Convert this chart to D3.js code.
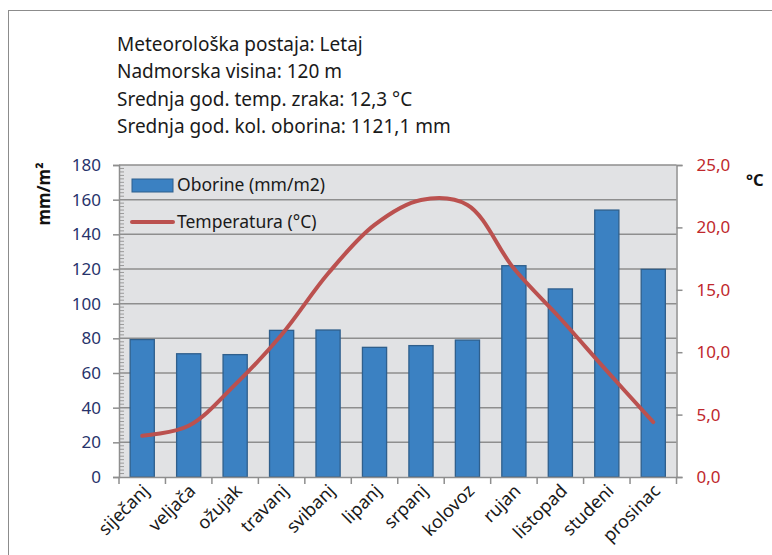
<!DOCTYPE html>
<html>
<head>
<meta charset="utf-8">
<script src="https://cdn.jsdelivr.net/npm/d3@7"></script>
<style>
  body { margin: 0; background: #fff; }
  svg { display: block; font-family: "Noto Sans", "Open Sans", sans-serif; }
</style>
</head>
<body>
<svg id="chart" width="772" height="555"></svg>
<script>
const months = ['siječanj', 'veljača', 'ožujak', 'travanj', 'svibanj', 'lipanj',
  'srpanj', 'kolovoz', 'rujan', 'listopad', 'studeni', 'prosinac']
const oborine = [79.3, 71.1, 70.6, 84.6, 84.8, 74.8, 75.8, 79.0, 121.9, 108.5, 154.0, 119.8]
const temperatura = [3.3, 4.1, 7.4, 11.4, 16.3, 20.2, 22.2, 21.8, 16.7, 12.7, 8.5, 4.4]
const leftTicks = [0, 20, 40, 60, 80, 100, 120, 140, 160, 180]
const rightTicks = [0, 5, 10, 15, 20, 25]
const infoLines = [
  'Meteorološka postaja: Letaj',
  'Nadmorska visina: 120 m',
  'Srednja god. temp. zraka: 12,3 °C',
  'Srednja god. kol. oborina: 1121,1 mm'
]

let svg = d3.select('#chart')
let plotL = 119, plotR = 676.5, plotT = 165, plotB = 477

// outer frame
svg.append('rect')
  .attr('x', 8.5).attr('y', 10.5)
  .attr('width', 800).attr('height', 600)
  .attr('fill', 'none')
  .attr('stroke', '#8c8c8c')

svg.selectAll('.info')
  .data(infoLines)
  .enter()
  .append('text')
  .attr('x', 117)
  .attr('y', (d, i) => 51 + i * 27.3)
  .attr('font-size', 19)
  .attr('fill', '#1a1a1a')
  .text(d => d)

let x = d3.scaleBand().domain(months).range([plotL, plotR]).paddingInner(0.48).paddingOuter(0.24)
let xBand = d3.scaleBand().domain(months).range([plotL, plotR])
let y = d3.scaleLinear().domain([0, 180]).range([plotB, plotT])
let yT = d3.scaleLinear().domain([0, 25]).range([plotB, plotT])

// plot background
svg.append('rect')
  .attr('x', plotL).attr('y', plotT)
  .attr('width', plotR - plotL).attr('height', plotB - plotT)
  .attr('fill', '#e1e2e4')

// grid
svg.append('g')
  .selectAll('line')
  .data(leftTicks.slice(1))
  .enter()
  .append('line')
  .attr('x1', plotL).attr('x2', plotR)
  .attr('y1', d => y(d)).attr('y2', d => y(d))
  .attr('stroke', '#8e8e8e')
  .attr('stroke-width', 1.5)

// minor ticks on left axis (inside)
let minor = d3.range(0, 180, 2).filter(d => d % 20 !== 0)
svg.append('g')
  .selectAll('line')
  .data(minor)
  .enter()
  .append('line')
  .attr('x1', plotL).attr('x2', plotL + 5)
  .attr('y1', d => y(d)).attr('y2', d => y(d))
  .attr('stroke', '#9a9a9a')
  .attr('stroke-width', 1)

// bars
svg.append('g')
  .selectAll('rect')
  .data(oborine)
  .enter()
  .append('rect')
  .attr('x', (d, i) => x(months[i]))
  .attr('y', d => y(d))
  .attr('width', x.bandwidth())
  .attr('height', d => plotB - y(d))
  .attr('fill', '#3b81c2')
  .attr('stroke', '#2f5f8c')
  .attr('stroke-width', 1.3)

// axes
let yAxis = d3.axisLeft(y).tickValues(leftTicks).tickSize(6).tickPadding(12)
let gy = svg.append('g').attr('transform', `translate(${plotL},0)`).call(yAxis)
gy.selectAll('text').attr('font-size', 17).attr('fill', '#27336b').attr('font-family', '"Noto Sans", sans-serif')

let yAxisR = d3.axisRight(yT).tickValues(rightTicks).tickSize(6).tickPadding(14)
  .tickFormat(d => d3.format('.1f')(d).replace('.', ','))
let gr = svg.append('g').attr('transform', `translate(${plotR},0)`).call(yAxisR)
gr.selectAll('text').attr('font-size', 17).attr('fill', '#c0282d').attr('font-family', '"Noto Sans", sans-serif')

let xAxis = d3.axisBottom(xBand).tickSize(0).tickFormat('')
let gx = svg.append('g').attr('transform', `translate(0,${plotB})`).call(xAxis)
svg.append('g')
  .selectAll('line')
  .data(d3.range(months.length + 1))
  .enter()
  .append('line')
  .attr('x1', i => plotL + i * xBand.step()).attr('x2', i => plotL + i * xBand.step())
  .attr('y1', plotB).attr('y2', plotB + 7)
  .attr('stroke', '#8e8e8e')
  .attr('stroke-width', 1.5)

for (let g of [gy, gr, gx]) {
  g.selectAll('path, line').attr('stroke', '#8e8e8e').attr('stroke-width', 1.5)
}

svg.append('g')
  .selectAll('text')
  .data(months)
  .enter()
  .append('text')
  .attr('transform', d => `translate(${xBand(d) + xBand.bandwidth() / 2 + 8},${plotB + 15}) rotate(-45)`)
  .attr('text-anchor', 'end')
  .attr('font-size', 18)
  .attr('fill', '#1a1a1a')
  .text(d => d)

// temperature line
let line = d3.line()
  .x((d, i) => xBand(months[i]) + xBand.bandwidth() / 2)
  .y(d => yT(d))
  .curve(d3.curveCatmullRom.alpha(0.5))

svg.append('path')
  .datum(temperatura)
  .attr('d', line)
  .attr('fill', 'none')
  .attr('stroke', '#bb514f')
  .attr('stroke-width', 4)
  .attr('stroke-linecap', 'round')

// axis titles
svg.append('text')
  .attr('transform', 'translate(50,194) rotate(-90)')
  .attr('text-anchor', 'middle')
  .attr('font-size', 17)
  .attr('font-weight', 'bold')
  .attr('fill', '#111')
  .text('mm/m²')

svg.append('text')
  .attr('x', 746).attr('y', 186)
  .attr('font-size', 16.5)
  .attr('font-weight', 'bold')
  .attr('fill', '#111')
  .text('°C')

// legend
let legend = svg.append('g')
legend.append('rect')
  .attr('x', 132).attr('y', 179)
  .attr('width', 41).attr('height', 13)
  .attr('fill', '#3b81c2')
  .attr('stroke', '#2f5f8c')
legend.append('line')
  .attr('x1', 132).attr('x2', 173)
  .attr('y1', 222).attr('y2', 222)
  .attr('stroke', '#bb514f')
  .attr('stroke-width', 4)
  .attr('stroke-linecap', 'round')
legend.selectAll('text')
  .data(['Oborine (mm/m2)', 'Temperatura (°C)'])
  .enter()
  .append('text')
  .attr('x', 177)
  .attr('y', (d, i) => 191 + i * 37)
  .attr('font-size', 17.5)
  .attr('fill', '#1a1a1a')
  .text(d => d)
</script>
</body>
</html>
